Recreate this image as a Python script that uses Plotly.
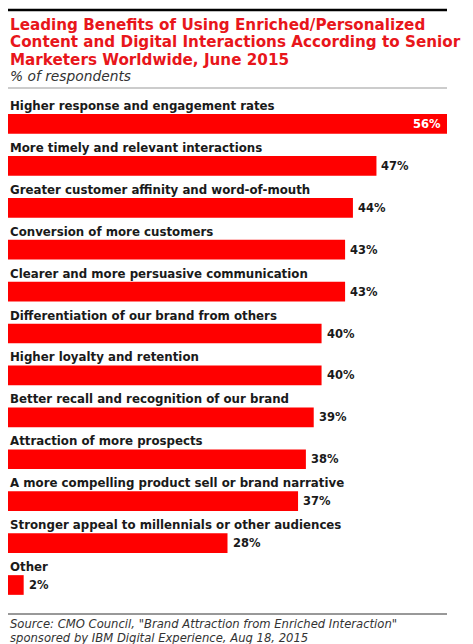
import plotly.graph_objects as go

TITLE_LINES = [
    "Leading Benefits of Using Enriched/Personalized",
    "Content and Digital Interactions According to Senior",
    "Marketers Worldwide, June 2015",
]
SUBTITLE = "% of respondents"
SOURCE_LINES = [
    'Source: CMO Council, "Brand Attraction from Enriched Interaction"',
    "sponsored by IBM Digital Experience, Aug 18, 2015",
]

categories = [
    "Higher response and engagement rates",
    "More timely and relevant interactions",
    "Greater customer affinity and word-of-mouth",
    "Conversion of more customers",
    "Clearer and more persuasive communication",
    "Differentiation of our brand from others",
    "Higher loyalty and retention",
    "Better recall and recognition of our brand",
    "Attraction of more prospects",
    "A more compelling product sell or brand narrative",
    "Stronger appeal to millennials or other audiences",
    "Other",
]
values = [56, 47, 44, 43, 43, 40, 40, 39, 38, 37, 28, 2]

RED = "#ff0000"
FONT = "DejaVu Sans"

fig = go.Figure(go.Bar(
    x=values,
    y=categories,
    orientation="h",
    marker=dict(color=RED, line=dict(width=0)),
    width=0.47,
    hoverinfo="skip",
))

annotations = []
# category labels above each bar
for cat, val in zip(categories, values):
    annotations.append(dict(
        x=0, y=cat, xref="x", yref="y", text="<b>%s</b>" % cat,
        xanchor="left", yanchor="middle", yshift=18, showarrow=False,
        font=dict(family=FONT, size=11.8, color="#1a1a1a"),
    ))
    # value labels
    if val == max(values):
        annotations.append(dict(
            x=val, y=cat, xref="x", yref="y", text="<b>%d%%</b>" % val,
            xanchor="right", yanchor="middle", xshift=-4, showarrow=False,
            font=dict(family=FONT, size=11.5, color="white"),
        ))
    else:
        annotations.append(dict(
            x=val, y=cat, xref="x", yref="y", text="<b>%d%%</b>" % val,
            xanchor="left", yanchor="middle", xshift=3, showarrow=False,
            font=dict(family=FONT, size=11.5, color="#1a1a1a"),
        ))

# title lines (pixel offsets above the plot top)
for i, line in enumerate(TITLE_LINES):
    annotations.append(dict(
        x=0, y=1, xref="paper", yref="paper", text="<b>%s</b>" % line,
        xanchor="left", yanchor="middle", yshift=103 - (24.5 + 17.5 * i),
        showarrow=False, font=dict(family=FONT, size=15.2, color="#e8161b"),
    ))
annotations.append(dict(
    x=0, y=1, xref="paper", yref="paper", text="<i>%s</i>" % SUBTITLE,
    xanchor="left", yanchor="middle", yshift=103 - 76, showarrow=False,
    font=dict(family=FONT, size=13.8, color="#333333"),
))
for i, line in enumerate(SOURCE_LINES):
    annotations.append(dict(
        x=0, y=0, xref="paper", yref="paper", text="<i>%s</i>" % line,
        xanchor="left", yanchor="middle", yshift=612 - (624 + 13.5 * i),
        showarrow=False, font=dict(family=FONT, size=11.6, color="#333333"),
    ))

shapes = [
    dict(type="line", xref="paper", yref="paper", ysizemode="pixel", yanchor=1,
         x0=0, x1=1, y0=93, y1=93, line=dict(color="black", width=2.5)),
    dict(type="line", xref="paper", yref="paper", ysizemode="pixel", yanchor=1,
         x0=0, x1=1, y0=15, y1=15, line=dict(color="#999999", width=1)),
    dict(type="line", xref="paper", yref="paper", ysizemode="pixel", yanchor=0,
         x0=0, x1=1, y0=-2, y1=-2, line=dict(color="#333333", width=1)),
]

# the page puts the figure 8px in from the top-left corner
fig.update_layout(
    width=465, height=636,
    margin=dict(l=0, r=26, t=95, b=32),
    paper_bgcolor="white", plot_bgcolor="white",
    showlegend=False,
    annotations=annotations,
    shapes=shapes,
)
fig.update_xaxes(range=[0, 56], visible=False, fixedrange=True)
fig.update_yaxes(categoryorder="array", categoryarray=categories, autorange="reversed",
                 visible=False, fixedrange=True)

fig.write_html("out.html")
